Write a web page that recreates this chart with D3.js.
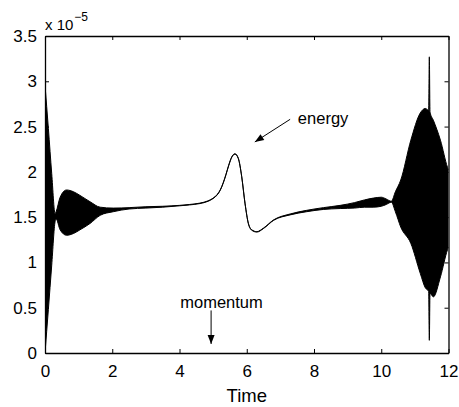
<!DOCTYPE html>
<html>
<head>
<meta charset="utf-8">
<script src="https://cdn.jsdelivr.net/npm/d3@7"></script>
<style>
  html, body { margin: 0; padding: 0; background: #fff; }
  svg { display: block; font-family: "Liberation Sans", Arial, Helvetica, sans-serif; }
</style>
</head>
<body>
<svg id="chart" width="459" height="407"></svg>
<script>
// ---- data (values in units of 1e-5) ----
const times = [0, 0.1, 0.2, 0.3, 0.33, 0.45, 0.64, 0.85, 1.04, 1.34, 1.64, 2.03, 2.5, 3.0, 3.5, 4.0, 4.3, 4.61, 4.85, 5.0, 5.12, 5.21, 5.3, 5.38, 5.46, 5.56, 5.65, 5.75, 5.85, 5.95, 6.05, 6.15, 6.3, 6.5, 6.8, 7.29, 7.78, 8.28, 8.78, 9.2, 9.5, 9.76, 10.0, 10.15, 10.3, 10.42, 10.58, 10.88, 11.16, 11.31, 11.41, 11.43, 11.45, 11.55, 11.76, 11.97, 12.0];
const upper = [2.96, 2.48, 1.98, 1.54, 1.56, 1.72, 1.80, 1.78, 1.74, 1.67, 1.61, 1.60, 1.605, 1.615, 1.62, 1.63, 1.64, 1.655, 1.68, 1.71, 1.75, 1.80, 1.88, 1.97, 2.07, 2.17, 2.20, 2.15, 1.95, 1.65, 1.43, 1.36, 1.34, 1.38, 1.47, 1.535, 1.575, 1.605, 1.63, 1.66, 1.69, 1.71, 1.72, 1.70, 1.675, 1.78, 1.91, 2.35, 2.65, 2.70, 2.68, 3.27, 2.66, 2.57, 2.35, 2.05, 2.02];
const lower = [0.00, 0.48, 0.97, 1.45, 1.48, 1.36, 1.30, 1.32, 1.36, 1.43, 1.52, 1.56, 1.59, 1.60, 1.61, 1.625, 1.635, 1.65, 1.675, 1.705, 1.745, 1.795, 1.875, 1.965, 2.065, 2.165, 2.195, 2.145, 1.945, 1.645, 1.425, 1.355, 1.335, 1.375, 1.465, 1.525, 1.56, 1.585, 1.595, 1.60, 1.61, 1.61, 1.62, 1.64, 1.665, 1.56, 1.39, 1.21, 0.88, 0.72, 0.68, 0.14, 0.66, 0.62, 0.84, 1.14, 1.17];

const xTicks = [0, 2, 4, 6, 8, 10, 12];
const yTicks = [0, 0.5, 1, 1.5, 2, 2.5, 3, 3.5];

const xLabel = "Time";
const annotations = [
  { text: "energy",   tx: 7.52, ty: 2.53, anchor: "start",  from: [7.29, 2.58], to: [6.24, 2.33] },
  { text: "momentum", tx: 5.25, ty: 0.50, anchor: "middle", from: [4.94, 0.47], to: [4.94, 0.10] }
];

// ---- layout ----
const svg = d3.select("#chart");
const L = 45, R = 448.5, T = 36, B = 353;
const x = d3.scaleLinear().domain([0, 12]).range([L, R]);
const y = d3.scaleLinear().domain([0, 3.5]).range([B, T]);

svg.append("rect").attr("width", 459).attr("height", 407).attr("fill", "#fff");

const rows = times.map((t, i) => ({ t, hi: upper[i], lo: lower[i] }));

svg.append("clipPath").attr("id", "clip")
  .append("rect").attr("x", L).attr("y", T).attr("width", R - L).attr("height", B - T);

const g = svg.append("g").attr("clip-path", "url(#clip)");

g.append("path").datum(rows)
  .attr("d", d3.area().x(d => x(d.t)).y0(d => y(d.lo)).y1(d => y(d.hi)).curve(d3.curveMonotoneX))
  .attr("fill", "#000");
g.append("path").datum(rows)
  .attr("d", d3.line().x(d => x(d.t)).y(d => y(d.hi)).curve(d3.curveMonotoneX))
  .attr("fill", "none").attr("stroke", "#000").attr("stroke-width", 1);
g.append("path").datum(rows)
  .attr("d", d3.line().x(d => x(d.t)).y(d => y(d.lo)).curve(d3.curveMonotoneX))
  .attr("fill", "none").attr("stroke", "#000").attr("stroke-width", 1);

// ---- axes ----
const fs = 17;
function styleAxis(sel, showText) {
  sel.selectAll("path.domain").attr("stroke", "#000").attr("stroke-width", 1.3);
  sel.selectAll(".tick line").attr("stroke", "#000").attr("stroke-width", 1);
  sel.selectAll(".tick text").attr("fill", "#000").style("font-size", fs + "px")
    .style("font-family", '"Liberation Sans", Arial, Helvetica, sans-serif');
  if (!showText) sel.selectAll(".tick text").remove();
}
const fmt = d => String(d);
svg.append("g").attr("transform", `translate(0,${B})`)
  .call(d3.axisBottom(x).tickValues(xTicks).tickFormat(fmt).tickSize(-4).tickSizeOuter(0).tickPadding(12))
  .call(s => styleAxis(s, true));
svg.append("g").attr("transform", `translate(${L},0)`)
  .call(d3.axisLeft(y).tickValues(yTicks).tickFormat(fmt).tickSize(-4).tickSizeOuter(0).tickPadding(8))
  .call(s => styleAxis(s, true));
svg.append("g").attr("transform", `translate(0,${T})`)
  .call(d3.axisTop(x).tickValues(xTicks).tickSize(-4).tickSizeOuter(0))
  .call(s => styleAxis(s, false));
svg.append("g").attr("transform", `translate(${R},0)`)
  .call(d3.axisRight(y).tickValues(yTicks).tickSize(-4).tickSizeOuter(0))
  .call(s => styleAxis(s, false));

// exponent label
const ex = svg.append("text").attr("x", L).attr("y", 30).attr("fill", "#000").style("font-size", "15px");
ex.append("tspan").text("x 10");
ex.append("tspan").attr("dx", 1).attr("dy", -9).style("font-size", "12px").text("\u22125");

// x label
svg.append("text").attr("x", (L + R) / 2).attr("y", 402).attr("text-anchor", "middle")
  .attr("fill", "#000").style("font-size", "18.5px").text(xLabel);

// annotations
annotations.forEach(a => {
  svg.append("text").attr("x", x(a.tx)).attr("y", y(a.ty)).attr("text-anchor", a.anchor)
    .attr("fill", "#000").style("font-size", "16.5px").text(a.text);
  const x1 = x(a.from[0]), y1 = y(a.from[1]), x2 = x(a.to[0]), y2 = y(a.to[1]);
  svg.append("line").attr("x1", x1).attr("y1", y1).attr("x2", x2).attr("y2", y2)
    .attr("stroke", "#000").attr("stroke-width", 1);
  const ang = Math.atan2(y2 - y1, x2 - x1), len = 9, w = 3.5;
  const bx = x2 - len * Math.cos(ang), by = y2 - len * Math.sin(ang);
  const px = -Math.sin(ang) * w, py = Math.cos(ang) * w;
  svg.append("path")
    .attr("d", `M${x2},${y2}L${bx + px},${by + py}L${bx - px},${by - py}Z`)
    .attr("fill", "#000");
});
</script>
</body>
</html>
